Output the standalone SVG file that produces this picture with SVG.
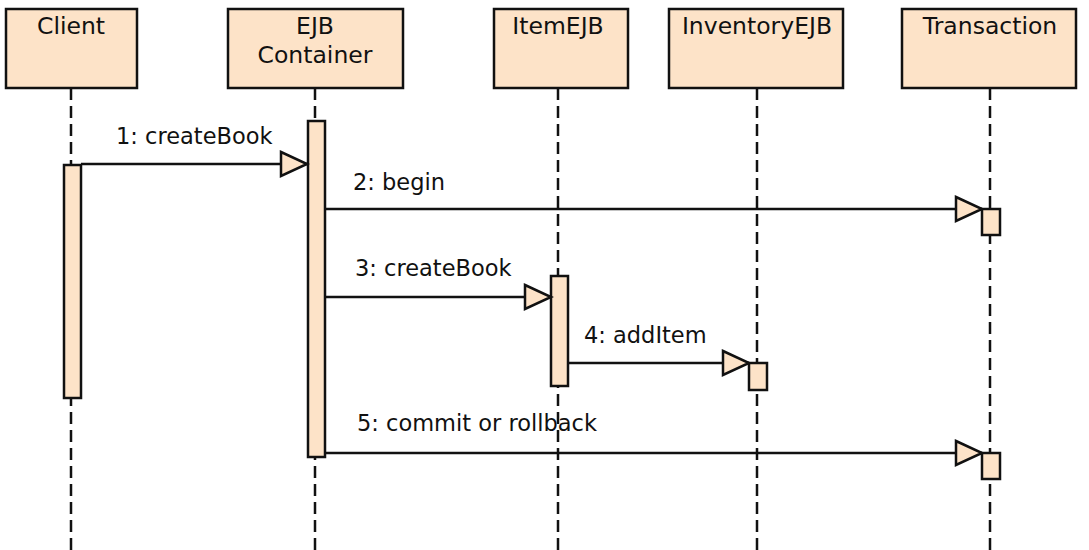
<svg xmlns="http://www.w3.org/2000/svg" width="1089" height="550" viewBox="0 0 1089 550">
<style>
.box{fill:#FDE3C8;stroke:#111;stroke-width:2.5}
.act{fill:#FDE3C8;stroke:#111;stroke-width:2.5}
.life{stroke:#111;stroke-width:2.5;stroke-dasharray:12 6;fill:none}
.msg{stroke:#111;stroke-width:2.5;fill:none;marker-end:url(#tri)}
text{font-family:"DejaVu Sans","Liberation Sans",sans-serif;font-size:22.5px;fill:#111}
.t{text-anchor:middle;font-size:23.5px}
</style>
<defs>
<marker id="tri" markerUnits="userSpaceOnUse" markerWidth="32" markerHeight="32" viewBox="-3 -16 32 32" refX="26" refY="0" orient="auto">
<polygon points="0,-12 26,0 0,12" fill="#FDE3C8" stroke="#111" stroke-width="2.5"/>
</marker>
</defs>
<rect width="1089" height="550" fill="#fff"/>
<g id="lifelines">
<line class="life" x1="71" y1="88" x2="71" y2="550"/>
<line class="life" x1="315" y1="88" x2="315" y2="550"/>
<line class="life" x1="558" y1="88" x2="558" y2="550"/>
<line class="life" x1="757" y1="88" x2="757" y2="550"/>
<line class="life" x1="990" y1="88" x2="990" y2="550"/>
</g>
<g id="client"><rect class="box" x="6" y="9" width="131" height="79"/><text class="t" x="71" y="34">Client</text></g>
<g id="ejbcontainer"><rect class="box" x="228" y="9" width="175" height="79"/><text class="t" x="315" y="34">EJB</text><text class="t" x="315" y="63">Container</text></g>
<g id="itemejb"><rect class="box" x="494" y="9" width="134" height="79"/><text class="t" x="558" y="34">ItemEJB</text></g>
<g id="inventoryejb"><rect class="box" x="669" y="9" width="174" height="79"/><text class="t" x="757" y="34">InventoryEJB</text></g>
<g id="transaction"><rect class="box" x="902" y="9" width="174" height="79"/><text class="t" x="990" y="34">Transaction</text></g>
<g id="activations">
<rect class="act" x="64" y="165" width="17" height="233"/>
<rect class="act" x="308" y="121" width="17" height="336"/>
<rect class="act" x="551" y="276" width="17" height="110"/>
<rect class="act" x="749" y="363" width="18" height="27"/>
<rect class="act" x="982" y="209" width="18" height="26"/>
<rect class="act" x="982" y="453" width="18" height="26"/>
</g>
<g id="connectors">
<line class="msg" x1="81" y1="164" x2="307" y2="164"/>
<line class="msg" x1="325" y1="209" x2="982" y2="209"/>
<line class="msg" x1="325" y1="297" x2="551" y2="297"/>
<line class="msg" x1="568" y1="363" x2="749" y2="363"/>
<line class="msg" x1="325" y1="453" x2="982" y2="453"/>
</g>
<g id="labels">
<text x="116" y="144">1: createBook</text>
<text x="353" y="190">2: begin</text>
<text x="355" y="276">3: createBook</text>
<text x="584" y="343">4: addItem</text>
<text x="357" y="431">5: commit or rollback</text>
</g>
</svg>
